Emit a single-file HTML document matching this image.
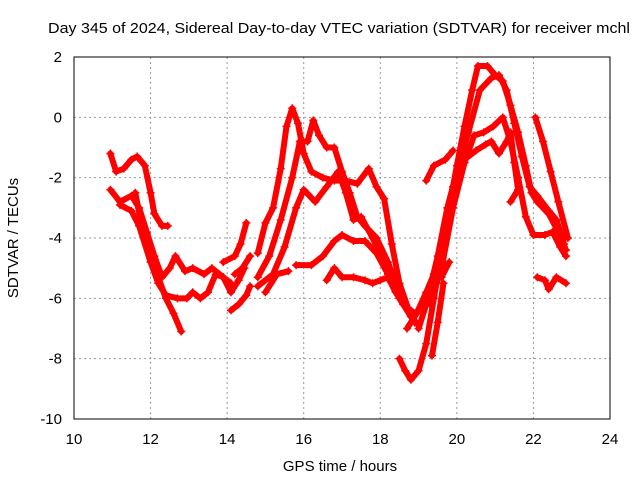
<!DOCTYPE html>
<html><head><meta charset="utf-8"><style>
body{margin:0;background:#fff;}
svg{display:block;font-family:"Liberation Sans",sans-serif;}
</style></head><body>
<svg id="chart" width="640" height="480">
<text x="339" y="33" font-size="15" text-anchor="middle" textLength="582" lengthAdjust="spacingAndGlyphs">Day 345 of 2024, Sidereal Day-to-day VTEC variation (SDTVAR) for receiver mchl</text>
<g id="grid"></g><g id="marks"></g><g id="axes"></g>
<text x="340" y="471" font-size="15" text-anchor="middle">GPS time / hours</text>
<text transform="translate(18,238) rotate(-90)" font-size="15" text-anchor="middle">SDTVAR / TECUs</text>
</svg>
<script>
const xTicks=[10,12,14,16,18,20,22,24];
const yTicks=[2,0,-2,-4,-6,-8,-10];
const trackA=[[10.95,-1.2],[11.1,-1.8],[11.3,-1.7],[11.5,-1.4],[11.65,-1.3],[11.85,-1.6],[12.0,-2.5],[12.1,-3.2],[12.3,-3.6],[12.45,-3.6]];
const trackB=[[10.95,-2.4],[11.2,-2.8],[11.5,-2.6],[11.7,-3.0],[11.9,-3.8],[12.1,-4.6],[12.3,-5.3],[12.5,-5.0],[12.65,-4.6],[12.9,-5.1],[13.1,-5.0],[13.4,-5.2],[13.6,-5.0],[13.9,-5.3],[14.1,-5.5]];
const trackC=[[11.2,-2.9],[11.5,-3.1],[11.7,-3.6],[12.0,-4.8],[12.2,-5.5],[12.4,-5.9],[12.7,-6.0],[12.95,-6.0],[13.1,-5.8],[13.3,-6.0],[13.5,-5.8],[13.7,-5.2],[13.9,-5.3],[14.1,-5.8],[14.3,-5.4],[14.45,-5.0]];
const trackA2=[[11.6,-2.5],[11.8,-3.8],[12.0,-4.6],[12.2,-5.3],[12.4,-6.0],[12.6,-6.5],[12.8,-7.1]];
const trackD=[[14.1,-6.4],[14.3,-6.2],[14.5,-5.9],[14.6,-5.6]];
const trackD2=[[13.9,-4.8],[14.2,-4.6],[14.35,-4.2],[14.5,-3.5]];
const trackD3=[[14.2,-5.2],[14.4,-5.0],[14.6,-4.6]];
const trackE=[[14.8,-4.5],[15.0,-3.5],[15.2,-3.0],[15.4,-1.7],[15.55,-0.3],[15.7,0.3],[15.85,-0.2],[16.0,-1.2],[16.2,-1.8],[16.5,-2.0],[16.8,-2.1],[17.1,-2.1],[17.4,-2.2],[17.7,-1.7],[17.9,-2.3],[18.1,-2.7],[18.3,-4.2],[18.5,-5.5],[18.8,-6.6],[19.0,-6.9]];
const trackF=[[14.8,-5.3],[15.1,-4.6],[15.4,-3.4],[15.7,-2.0],[15.9,-0.8],[16.1,-0.8],[16.25,-0.1],[16.4,-0.6],[16.6,-1.0],[16.8,-1.0],[17.0,-1.8],[17.2,-2.5],[17.4,-3.3],[17.6,-3.6],[17.9,-4.0],[18.2,-4.8],[18.4,-5.5],[18.6,-6.2],[18.9,-6.8]];
const trackG=[[14.8,-5.6],[15.2,-5.2],[15.5,-4.3],[15.8,-3.0],[16.0,-2.4],[16.3,-2.8],[16.6,-2.3],[16.9,-1.8],[17.1,-2.5],[17.3,-3.4],[17.5,-3.3],[17.8,-4.0],[18.1,-4.8],[18.4,-5.6],[18.7,-6.3],[18.9,-6.5]];
const trackH=[[15.0,-5.8],[15.3,-5.2],[15.6,-5.1]];
const trackH2=[[15.8,-4.9],[16.2,-4.9],[16.5,-4.6],[16.8,-4.1],[17.0,-3.9],[17.3,-4.1],[17.6,-4.1],[17.9,-4.5],[18.2,-5.2],[18.5,-6.0],[18.8,-6.6]];
const trackI=[[16.6,-5.4],[16.8,-5.0],[17.0,-5.3],[17.3,-5.3],[17.6,-5.4],[17.8,-5.5],[18.0,-5.4],[18.2,-5.3],[18.4,-5.8],[18.6,-6.2]];
const trackJ=[[18.5,-8.0],[18.65,-8.4],[18.8,-8.7],[19.0,-8.4],[19.2,-7.5],[19.4,-6.0],[19.6,-4.5],[19.8,-3.0],[20.0,-1.6],[20.2,-0.3],[20.4,0.9],[20.55,1.7],[20.8,1.7],[21.0,1.4],[21.2,1.2],[21.4,0.4],[21.6,-0.5],[21.8,-1.6],[21.95,-2.5],[22.1,-2.8],[22.4,-3.2],[22.65,-3.8],[22.85,-4.4]];
const trackK=[[19.0,-7.0],[19.2,-6.2],[19.5,-4.6],[19.75,-3.0],[20.0,-1.8],[20.3,-0.5],[20.6,0.9],[20.9,1.3],[21.1,1.4],[21.3,0.9],[21.5,-0.2],[21.7,-1.3],[21.9,-2.3],[22.1,-2.6],[22.4,-3.1],[22.6,-3.4],[22.8,-4.2]];
const trackL=[[19.3,-6.2],[19.6,-5.0],[19.9,-3.0],[20.2,-1.5],[20.45,-0.6],[20.7,-0.5],[20.95,-0.3],[21.2,0.0],[21.4,-0.8],[21.6,-2.0],[21.8,-3.3],[22.0,-3.9],[22.3,-3.9],[22.5,-3.8],[22.7,-4.3],[22.85,-4.6]];
const trackM=[[19.6,-5.0],[19.9,-2.3],[20.2,-1.4],[20.5,-1.1],[20.75,-0.9],[20.9,-0.8],[21.1,-1.2],[21.3,-0.8],[21.4,-0.5],[21.5,-1.5],[21.6,-2.4],[21.4,-2.8]];
const trackN=[[19.2,-2.1],[19.4,-1.6],[19.7,-1.4],[19.9,-1.1]];
const trackO=[[22.05,0.0],[22.25,-0.8],[22.45,-1.8],[22.65,-2.8],[22.9,-4.0]];
const trackP=[[22.1,-5.3],[22.3,-5.4],[22.4,-5.7],[22.6,-5.3],[22.85,-5.5]];
const trackQ=[[18.7,-7.0],[18.95,-6.5],[19.2,-5.8],[19.4,-5.2],[19.6,-5.3],[19.8,-4.8]];
const trackR=[[19.35,-7.9],[19.5,-6.8],[19.65,-5.5]];
const tracks=[trackA,trackA2,trackB,trackC,trackD,trackD2,trackD3,trackE,trackF,trackG,trackH,trackH2,trackI,trackJ,trackK,trackL,trackM,trackN,trackO,trackP,trackQ,trackR];
const X0=74,X1=610,Y0=57,Y1=419;
const sx=v=>X0+(v-10)/14*(X1-X0);
const sy=v=>Y0+(2-v)/12*(Y1-Y0);
const NS="http://www.w3.org/2000/svg";
const grid=document.getElementById('grid'),axes=document.getElementById('axes'),marks=document.getElementById('marks');
function mk(tag,attrs,parent){const e=document.createElementNS(NS,tag);for(const k in attrs)e.setAttribute(k,attrs[k]);parent.appendChild(e);return e;}
xTicks.forEach(t=>{
  if(t>10&&t<24){const l=mk('line',{x1:sx(t),x2:sx(t),y1:Y0,y2:Y1,stroke:'#999','stroke-dasharray':'2,3'},grid);
  
  }
  const tx=mk('text',{x:sx(t),y:Y1+25,'font-size':15,'text-anchor':'middle'},axes);tx.textContent=t;
  
  
});
yTicks.forEach(t=>{
  if(t>-10&&t<2){const l=mk('line',{x1:X0,x2:X1,y1:sy(t),y2:sy(t),stroke:'#999','stroke-dasharray':'2,3'},grid);
  
  }
  const tx=mk('text',{x:X0-12,y:sy(t)+5,'font-size':15,'text-anchor':'end'},axes);tx.textContent=t;
  
  
});
const fr=mk('rect',{x:X0,y:Y0,width:X1-X0,height:Y1-Y0,fill:'none',stroke:'#000'},axes);


tracks.forEach(tr=>{
  const pl=mk('polyline',{points:tr.map(p=>sx(p[0])+','+sy(p[1])).join(' '),fill:'none',stroke:'#f00','stroke-width':6,'stroke-linejoin':'round','stroke-linecap':'round'},marks);
  
  
  tr.forEach(p=>{
    const x=sx(p[0]),y=sy(p[1]);
    const m=mk('path',{d:`M${x-4},${y}H${x+4}M${x},${y-4}V${y+4}`,stroke:'#f00','stroke-width':1.5},marks);
    
    
  });
});
</script>
</body></html>
